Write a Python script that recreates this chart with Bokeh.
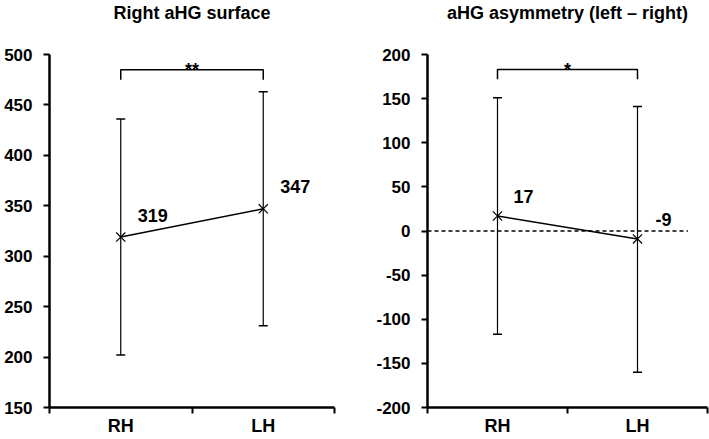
from bokeh.plotting import figure
from bokeh.layouts import row
from bokeh.models import (ColumnDataSource, Whisker, TeeHead, FixedTicker, Range1d,
                          CustomJSTickFormatter, Title)
from bokeh.core.properties import value
from bokeh.embed import file_html
from bokeh.resources import INLINE

# ---- data ----
groups = ["RH", "LH"]
group_pos = [0.5, 1.5]
group_bounds = [0, 1, 2]

surf_title = "Right aHG surface"
surf_mean = [319, 347]
surf_upper = [436, 463]
surf_lower = [202, 231]
surf_ticks = [150, 200, 250, 300, 350, 400, 450, 500]
surf_sig = "**"
surf_bracket = [485, 475]   # bracket level, bracket end

asym_title = "aHG asymmetry (left \u2013 right)"
asym_mean = [17, -9]
asym_upper = [151, 141]
asym_lower = [-117, -160]
asym_ticks = [-200, -150, -100, -50, 0, 50, 100, 150, 200]
asym_sig = "*"
asym_bracket = [183, 172]

FONT = "Liberation Sans"
H = 439
BOTTOM = 32


def panel(title, mean, upper, lower, ticks, sig, bracket, width, left, right,
          label_dx, label_dy, zero_line=None):
    y0, y1 = min(ticks), max(ticks)
    p = figure(width=width, height=H, output_backend="svg", toolbar_location=None,
               title=None,
               x_range=Range1d(0, 2), y_range=Range1d(y0, y1),
               min_border_left=left, min_border_right=right,
               min_border_top=0, min_border_bottom=BOTTOM)
    p.outline_line_color = None
    p.xgrid.grid_line_color = None
    p.ygrid.grid_line_color = None
    p.background_fill_color = "white"
    p.border_fill_color = "white"

    # spacer between frame and title, then the title itself (outermost)
    p.add_layout(Title(text=" ", text_font_size="12px", standoff=16), "above")
    p.add_layout(Title(text=title, align="center", text_font=FONT, text_font_style="bold",
                       text_font_size="18px", text_color="black", standoff=0), "above")

    # axes
    for ax in (p.xaxis[0], p.yaxis[0]):
        ax.axis_line_width = 2.5
        ax.axis_line_color = "black"
        ax.major_tick_line_width = 2
        ax.major_tick_line_color = "black"
        ax.major_label_text_font = FONT
        ax.major_label_text_font_style = "bold"
        ax.major_label_text_color = "black"
    p.yaxis.ticker = FixedTicker(ticks=ticks)
    p.yaxis.formatter = CustomJSTickFormatter(code="return String(tick);")
    p.yaxis.major_tick_out = 6
    p.yaxis.major_tick_in = 0
    p.yaxis.minor_tick_line_color = None
    p.yaxis.major_label_standoff = 11
    p.yaxis.major_label_text_font_size = "17px"

    p.xaxis.ticker = FixedTicker(ticks=group_pos, minor_ticks=group_bounds)
    p.xaxis.major_label_overrides = {gp: g for gp, g in zip(group_pos, groups)}
    p.xaxis.major_tick_out = 0
    p.xaxis.major_tick_in = 0
    p.xaxis.minor_tick_out = 6
    p.xaxis.minor_tick_in = 0
    p.xaxis.minor_tick_line_width = 2
    p.xaxis.minor_tick_line_color = "black"
    p.xaxis.major_label_standoff = 2
    p.xaxis.major_label_text_font_size = "18px"

    if zero_line is not None:
        p.line(zero_line, [0, 0], line_color="black", line_width=1.5, line_dash="4 3")

    src = ColumnDataSource(dict(x=group_pos, mean=mean, upper=upper, lower=lower,
                                label=[str(m) for m in mean]))
    w = Whisker(base="x", upper="upper", lower="lower", source=src,
                line_color="black", line_width=1.2,
                upper_head=TeeHead(size=9, line_width=1.5, line_color="black"),
                lower_head=TeeHead(size=9, line_width=1.5, line_color="black"))
    p.add_layout(w)
    p.line("x", "mean", source=src, line_color="black", line_width=1.5)
    p.scatter("x", "mean", source=src, marker="x", size=13, line_color="black", line_width=1.2)
    p.text("x", "mean", text="label", source=src, x_offset=label_dx, y_offset=label_dy,
           text_align="center", text_baseline="middle", text_font=value(FONT),
           text_font_style="bold", text_font_size="18px", text_color="black")

    # significance bracket
    b, e = bracket
    p.line([group_pos[0], group_pos[0], group_pos[1], group_pos[1]], [e, b, b, e],
           line_color="black", line_width=1.5)
    p.text([sum(group_pos) / 2], [b], text=[sig], text_align="center",
           text_baseline="alphabetic", y_offset=0, text_font=value(FONT),
           text_font_style="bold", text_font_size="18px", text_color="black")
    return p


p1 = panel(surf_title, surf_mean, surf_upper, surf_lower, surf_ticks, surf_sig, surf_bracket,
           width=355, left=49, right=21, label_dx=32, label_dy=-22)
p2 = panel(asym_title, asym_mean, asym_upper, asym_lower, asym_ticks, asym_sig, asym_bracket,
           width=354, left=72, right=2, label_dx=26, label_dy=-19, zero_line=[0, 1.86])

layout = row(p1, p2, spacing=0)
open("out.html", "w").write(file_html(layout, INLINE))
